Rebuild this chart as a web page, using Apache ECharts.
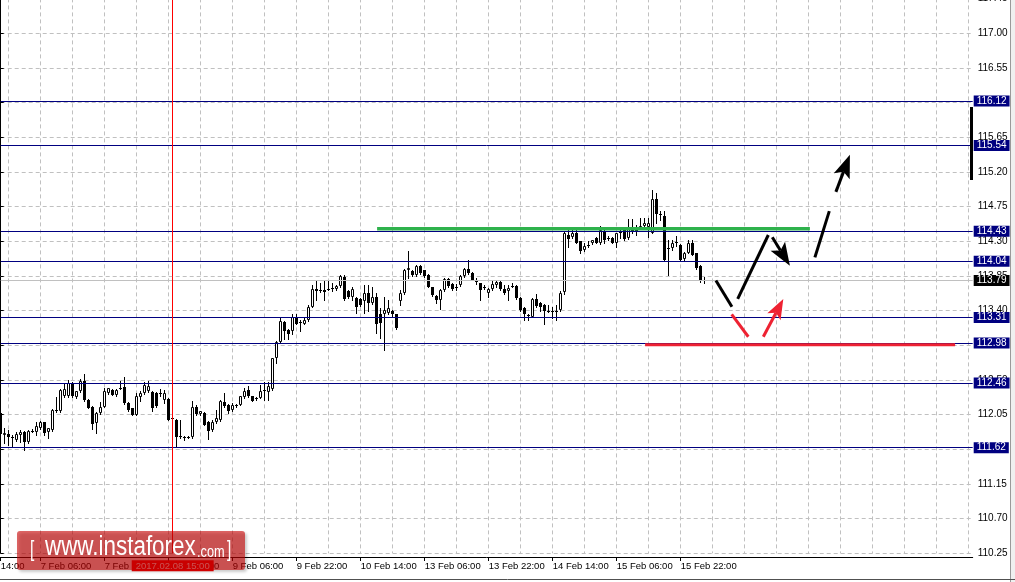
<!DOCTYPE html>
<html><head><meta charset="utf-8">
<script src="https://cdn.jsdelivr.net/npm/echarts@6/dist/echarts.min.js"></script>
<style>html,body{margin:0;padding:0;background:#fff;overflow:hidden}#c{width:1015px;height:582px}</style>
</head><body><div id="c"></div>
<script>
// ---- data (hourly bars, USDJPY) ----
const barOpen = [
112.07,111.79,111.80,111.76,111.72,111.78,111.83,111.69,111.83,111.82,
111.87,111.95,111.82,111.85,112.11,112.09,112.29,112.29,112.46,112.28,
112.35,112.49,112.24,112.15,111.94,112.07,112.15,112.33,112.37,112.30,
112.39,112.41,112.20,112.13,112.05,112.28,112.33,112.36,112.34,112.33,
112.32,112.24,112.25,111.99,111.98,111.76,111.76,111.75,111.76,112.15,
112.06,112.07,111.96,111.85,111.95,111.98,112.21,112.18,112.11,112.16,
112.18,112.28,112.37,112.29,112.25,112.27,112.36,112.34,112.38,112.78,
112.99,113.25,113.15,113.13,113.32,113.24,113.23,113.28,113.45,113.68,
113.65,113.67,113.675,113.69,113.68,113.72,113.84,113.65,113.57,113.56,
113.55,113.52,113.63,113.50,113.58,113.35,113.35,113.37,113.40,113.35,
113.53,113.63,113.92,113.91,113.86,113.98,113.92,113.86,113.70,113.59,
113.54,113.66,113.81,113.75,113.70,113.73,113.85,113.94,113.89,113.78,
113.76,113.69,113.63,113.68,113.73,113.77,113.68,113.65,113.71,113.72,
113.56,113.43,113.34,113.32,113.55,113.50,113.47,113.40,113.39,113.40,
113.41,113.64,114.38,114.35,114.40,114.30,114.18,114.24,114.27,114.34,
114.28,114.43,114.33,114.34,114.28,114.405,114.45,114.34,114.44,114.45,
114.47,114.50,114.48,114.41,114.85,114.65,114.63,114.20,114.21,114.28,
114.25,114.07,114.15,114.27,114.14,113.98,113.80];
const barHigh = [
112.13,111.87,111.85,111.78,111.83,111.85,111.84,111.85,111.86,111.96,
111.97,111.96,111.88,112.12,112.28,112.38,112.46,112.50,112.47,112.36,
112.51,112.58,112.25,112.16,112.08,112.21,112.39,112.40,112.38,112.38,
112.48,112.54,112.21,112.14,112.33,112.35,112.47,112.49,112.35,112.34,
112.38,112.37,112.26,112.01,111.99,111.98,111.77,111.77,112.22,112.18,
112.10,112.08,111.97,111.98,112.11,112.24,112.33,112.19,112.20,112.19,
112.29,112.39,112.42,112.29,112.28,112.44,112.47,112.47,112.79,113.00,
113.30,113.26,113.16,113.35,113.35,113.28,113.30,113.47,113.73,113.78,
113.76,113.78,113.78,113.76,113.73,113.86,113.86,113.66,113.71,113.57,
113.56,113.73,113.73,113.71,113.63,113.43,113.58,113.54,113.41,113.35,
113.67,113.94,114.17,113.92,113.99,113.99,113.93,113.88,113.71,113.60,
113.68,113.82,113.82,113.76,113.75,113.86,113.95,114.06,113.90,113.82,
113.76,113.73,113.69,113.78,113.78,113.79,113.73,113.73,113.76,113.73,
113.57,113.44,113.35,113.56,113.62,113.51,113.48,113.47,113.45,113.47,
113.65,114.42,114.47,114.49,114.45,114.30,114.27,114.30,114.32,114.35,
114.50,114.44,114.37,114.35,114.40,114.45,114.49,114.59,114.59,114.51,
114.60,114.60,114.60,114.96,114.92,114.69,114.69,114.32,114.32,114.37,
114.26,114.16,114.31,114.31,114.14,113.99,113.84];
const barLow = [
111.79,111.68,111.65,111.64,111.71,111.70,111.59,111.68,111.82,111.79,
111.86,111.79,111.74,111.84,112.08,112.08,112.28,112.28,112.28,112.27,
112.34,112.22,112.13,111.86,111.81,112.06,112.15,112.32,112.30,112.29,
112.38,112.19,112.10,112.04,112.04,112.23,112.32,112.34,112.09,112.15,
112.29,112.20,111.98,111.98,111.64,111.75,111.72,111.74,111.75,112.05,
112.05,111.91,111.73,111.84,111.94,111.97,112.15,112.07,112.10,112.15,
112.17,112.27,112.28,112.22,112.24,112.26,112.24,112.24,112.37,112.72,
112.98,113.03,113.03,113.09,113.22,113.13,113.22,113.27,113.44,113.54,
113.64,113.54,113.67,113.65,113.67,113.71,113.54,113.56,113.54,113.37,
113.46,113.37,113.39,113.48,113.11,113.04,112.89,113.35,113.33,113.16,
113.47,113.62,113.82,113.85,113.85,113.88,113.84,113.70,113.59,113.50,
113.42,113.65,113.71,113.67,113.67,113.72,113.84,113.88,113.79,113.75,
113.54,113.68,113.58,113.67,113.71,113.67,113.62,113.54,113.70,113.55,
113.39,113.28,113.28,113.31,113.45,113.40,113.23,113.38,113.30,113.28,
113.40,113.62,114.23,114.34,114.27,114.14,114.17,114.23,114.26,114.27,
114.26,114.28,114.32,114.27,114.23,114.34,114.32,114.33,114.40,114.38,
114.46,114.49,114.36,114.40,114.53,114.58,114.05,113.86,114.19,114.24,
114.04,114.04,114.14,114.12,113.94,113.77,113.76];
const barClose = [
111.80,111.81,111.76,111.74,111.80,111.83,111.70,111.84,111.84,111.90,
111.95,111.81,111.87,112.11,112.09,112.37,112.38,112.46,112.29,112.35,
112.49,112.24,112.13,111.93,112.07,112.15,112.36,112.39,112.31,112.37,
112.40,112.20,112.11,112.05,112.29,112.33,112.44,112.42,112.13,112.16,
112.33,112.33,111.98,112.00,111.76,111.77,111.75,111.76,112.15,112.06,
112.09,111.92,111.84,111.96,112.00,112.23,112.16,112.10,112.17,112.18,
112.29,112.36,112.29,112.23,112.27,112.35,112.37,112.42,112.78,112.99,
113.26,113.14,113.10,113.32,113.23,113.25,113.28,113.44,113.68,113.65,
113.66,113.64,113.68,113.69,113.72,113.85,113.55,113.57,113.68,113.45,
113.47,113.63,113.50,113.58,113.22,113.24,113.41,113.43,113.35,113.17,
113.63,113.93,113.95,113.86,113.98,113.89,113.85,113.71,113.60,113.54,
113.66,113.81,113.72,113.68,113.71,113.85,113.94,113.89,113.80,113.77,
113.67,113.70,113.68,113.75,113.77,113.68,113.63,113.69,113.72,113.56,
113.41,113.35,113.33,113.55,113.46,113.44,113.40,113.39,113.40,113.39,
113.63,114.40,114.33,114.41,114.28,114.17,114.24,114.25,114.31,114.28,
114.45,114.31,114.345,114.28,114.40,114.42,114.33,114.48,114.45,114.45,
114.50,114.53,114.53,114.85,114.65,114.645,114.06,114.21,114.27,114.29,
114.06,114.15,114.28,114.12,113.95,113.80,113.79];

const slotCount = 244;   // bar slots across the chart (incl. empty right shift)
const xTickIndex = [0,10,26,42,58,74,90,106,122,138,154,170];
const xTickText  = ['14:00','7 Feb 06:00','7 Feb 22:00','8 Feb 14:00','9 Feb 06:00','9 Feb 22:00',
                    '10 Feb 14:00','13 Feb 06:00','13 Feb 22:00','14 Feb 14:00','15 Feb 06:00','15 Feb 22:00'];
const levelValues = [116.12,115.54,114.43,114.04,113.31,112.98,112.46,111.62];
const lastPrice = 113.79;
const markerBar = 43;
const markerText = '2017.02.08 15:00';
const yMin = 110.25, yMax = 117.45, yStep = 0.45;

// drawn objects [barFrom, priceFrom, barTo, priceTo]
const greenLines    = [[94.1,114.46,202.3,114.46]];
const blackSegments = [[178.8,113.79,182.8,113.45],[184.25,113.55,191.9,114.38],[203.55,114.09,207.15,114.69]];
const blackArrows   = [[192.9,114.35,197.3,113.98],[208.8,114.94,212.3,115.42]];
const redSegments   = [[182.75,113.35,186.9,113.06],[161.1,112.955,238.6,112.955]];
const redArrows     = [[190.65,113.06,195.65,113.55]];

// ---- chart ----
const FONT = 'Liberation Sans';
const slots = Array.from({length: slotCount}, (_, i) => String(i));
const labelMap = {};
xTickIndex.forEach((k, j) => { labelMap[k] = xTickText[j]; });
const isTick = (i) => labelMap[i] !== undefined;

const candleData = barOpen.map((o, i) => [i, o, barHigh[i], barLow[i], barClose[i]]);

function renderCandle(params, api) {
  const i = api.value(0), o = api.value(1), h = api.value(2), l = api.value(3), c = api.value(4);
  const pO = api.coord([i, o]), pC = api.coord([i, c]), pH = api.coord([i, h]), pL = api.coord([i, l]);
  const px = Math.floor(pO[0]);
  const yTop = Math.round(Math.min(pO[1], pC[1])), yBot = Math.round(Math.max(pO[1], pC[1]));
  const yH = Math.round(pH[1]), yL = Math.round(pL[1]);
  const ch = [{type: 'rect', shape: {x: px, y: yH, width: 1, height: Math.max(1, yL - yH + 1)}, style: {fill: '#000'}}];
  if (yBot - yTop <= 1) {
    ch.push({type: 'rect', shape: {x: px - 1, y: yTop, width: 3, height: 1}, style: {fill: '#000'}});
  } else if (c > o) {
    ch.push({type: 'rect', shape: {x: px - 0.5, y: yTop + 0.5, width: 2, height: yBot - yTop - 1},
             style: {fill: '#fff', stroke: '#000', lineWidth: 1}});
  } else {
    ch.push({type: 'rect', shape: {x: px - 1, y: yTop, width: 3, height: yBot - yTop}, style: {fill: '#000'}});
  }
  return {type: 'group', children: ch};
}

function makeDrawRender(color, width, arrow, headLen, headHalf) {
  return function (params, api) {
    const p1 = api.coord([api.value(0), api.value(1)]);
    const p2 = api.coord([api.value(2), api.value(3)]);
    if (!arrow) {
      return {type: 'line', shape: {x1: p1[0], y1: p1[1], x2: p2[0], y2: p2[1]},
              style: {stroke: color, lineWidth: width}};
    }
    const dx = p2[0] - p1[0], dy = p2[1] - p1[1], len = Math.hypot(dx, dy);
    const ux = dx / len, uy = dy / len;
    const base = [p2[0] - ux * headLen, p2[1] - uy * headLen];
    const notch = [p2[0] - ux * headLen * 0.78, p2[1] - uy * headLen * 0.78];
    const left = [base[0] - uy * headHalf, base[1] + ux * headHalf];
    const right = [base[0] + uy * headHalf, base[1] - ux * headHalf];
    return {type: 'group', children: [
      {type: 'line', shape: {x1: p1[0], y1: p1[1], x2: notch[0], y2: notch[1]}, style: {stroke: color, lineWidth: width}},
      {type: 'polygon', shape: {points: [p2, left, notch, right]}, style: {fill: color}}
    ]};
  };
}

function drawSeries(data, color, width, arrow, hl, hw) {
  return {type: 'custom', xAxisIndex: 1, yAxisIndex: 0, data: data, silent: true, clip: false,
          encode: {x: [0, 2], y: [1, 3]}, z: 5,
          renderItem: makeDrawRender(color, width, arrow, hl, hw)};
}

const levelLabel = (bg) => ({show: true, position: 'end', distance: 1,
  formatter: (p) => Number(p.value).toFixed(2), color: '#fff', backgroundColor: bg,
  fontFamily: FONT, fontSize: 10, lineHeight: 10, padding: [1, 3, 0, 3]});

const markData = levelValues.map(v => ({yAxis: v, lineStyle: {color: '#000080', width: 1, type: 'solid'}, label: levelLabel('#000080')}));
markData.push({yAxis: lastPrice, lineStyle: {color: '#c0c0c0', width: 1, type: 'solid'}, label: levelLabel('#000000')});
markData.push({xAxis: markerBar, lineStyle: {color: '#ff0000', width: 1, type: 'solid'},
  label: {show: true, position: 'start', distance: 7, formatter: markerText, color: '#fff',
          backgroundColor: '#ff0000', fontFamily: FONT, fontSize: 9.5, lineHeight: 10, padding: [1, 4, 0, 4]}});

const chart = echarts.init(document.getElementById('c'), null, {renderer: 'canvas'});
chart.setOption({
  animation: false,
  backgroundColor: '#ffffff',
  textStyle: {fontFamily: FONT},
  grid: {left: 0.7, right: 42.3, top: -1.6, bottom: 28.7, containLabel: false, outerBoundsMode: 'none'},
  xAxis: [{
    type: 'category', data: slots, boundaryGap: false, position: 'bottom', offset: 3.7,
    axisLine: {show: true, lineStyle: {color: '#000', width: 1}},
    axisTick: {show: true, interval: (i) => isTick(i), length: 4, lineStyle: {color: '#000'}},
    axisLabel: {interval: (i) => isTick(i), formatter: (v, i) => labelMap[i] || '', align: 'left',
                margin: 4, fontSize: 9.5, color: '#000', fontFamily: FONT, hideOverlap: false},
    splitLine: {show: true, interval: (i) => i % 8 === 2, lineStyle: {color: '#c0c0c0', width: 1, type: [4, 3]}}
  }, {
    type: 'value', min: 0, max: slotCount - 1, show: false
  }],
  yAxis: [{
    type: 'value', position: 'right', min: yMin, max: yMax, interval: yStep, scale: true,
    axisLine: {show: true, lineStyle: {color: '#000', width: 1}},
    axisTick: {show: true, length: 3, lineStyle: {color: '#000'}},
    axisLabel: {formatter: (v) => v.toFixed(2), margin: 5, fontSize: 10, color: '#000', fontFamily: FONT,
                showMinLabel: true, showMaxLabel: true, hideOverlap: false},
    splitLine: {show: true, lineStyle: {color: '#c0c0c0', width: 1, type: [4, 3]}}
  }],
  series: [
    {
      type: 'custom', name: 'USDJPY H1', xAxisIndex: 1, yAxisIndex: 0, data: candleData, silent: true, clip: true,
      encode: {x: 0, y: [1, 2, 3, 4]}, renderItem: renderCandle, z: 3,
      markLine: {silent: true, symbol: ['none', 'none'], animation: false, data: markData, z: 4,
                 emphasis: {disabled: true}}
    },
    drawSeries(greenLines, '#2fb24c', 3.5, false),
    drawSeries(blackSegments, '#000000', 3, false),
    drawSeries(blackArrows, '#000000', 3, true, 23, 8.5),
    drawSeries(redSegments, '#ee2232', 3, false),
    drawSeries(redArrows, '#ee2232', 3, true, 20, 7.5)
  ],
  graphic: [
    {type: 'rect', z: 50, silent: true, shape: {x: 970, y: 107, width: 3, height: 73}, style: {fill: '#000'}},
    {type: 'line', z: 50, silent: true, shape: {x1: 1010.5, y1: 0, x2: 1010.5, y2: 582}, style: {stroke: '#9a9a9a', lineWidth: 1}},
    {type: 'rect', z: 49, silent: true, shape: {x: 1011, y: 0, width: 4, height: 582}, style: {fill: '#f0f0f0'}},
    {type: 'line', z: 50, silent: true, shape: {x1: 0, y1: 579.5, x2: 1015, y2: 579.5}, style: {stroke: '#505050', lineWidth: 1}},
    {type: 'rect', z: 100, silent: true, shape: {x: 17, y: 531, width: 228, height: 39, r: 3},
     style: {fill: 'rgba(200,0,0,0.6)', shadowBlur: 3, shadowOffsetX: 2, shadowOffsetY: 2, shadowColor: 'rgba(0,0,0,0.35)'}},
    {type: 'text', z: 101, silent: true, x: 30, y: 550, scaleX: 0.7,
     style: {text: '[', fontSize: 22, fontFamily: FONT, fill: '#fff', align: 'left', verticalAlign: 'middle'}},
    {type: 'text', z: 101, silent: true, x: 45, y: 548, scaleX: 0.83,
     style: {text: 'www.instaforex', fontSize: 27, fontFamily: FONT, fill: '#fff', align: 'left', verticalAlign: 'middle'}},
    {type: 'text', z: 101, silent: true, x: 197, y: 552, scaleX: 0.75,
     style: {text: '.com', fontSize: 17, fontFamily: FONT, fill: '#fff', align: 'left', verticalAlign: 'middle'}},
    {type: 'text', z: 101, silent: true, x: 227, y: 550, scaleX: 0.7,
     style: {text: ']', fontSize: 22, fontFamily: FONT, fill: '#fff', align: 'left', verticalAlign: 'middle'}}
  ]
});
</script>
</body></html>
